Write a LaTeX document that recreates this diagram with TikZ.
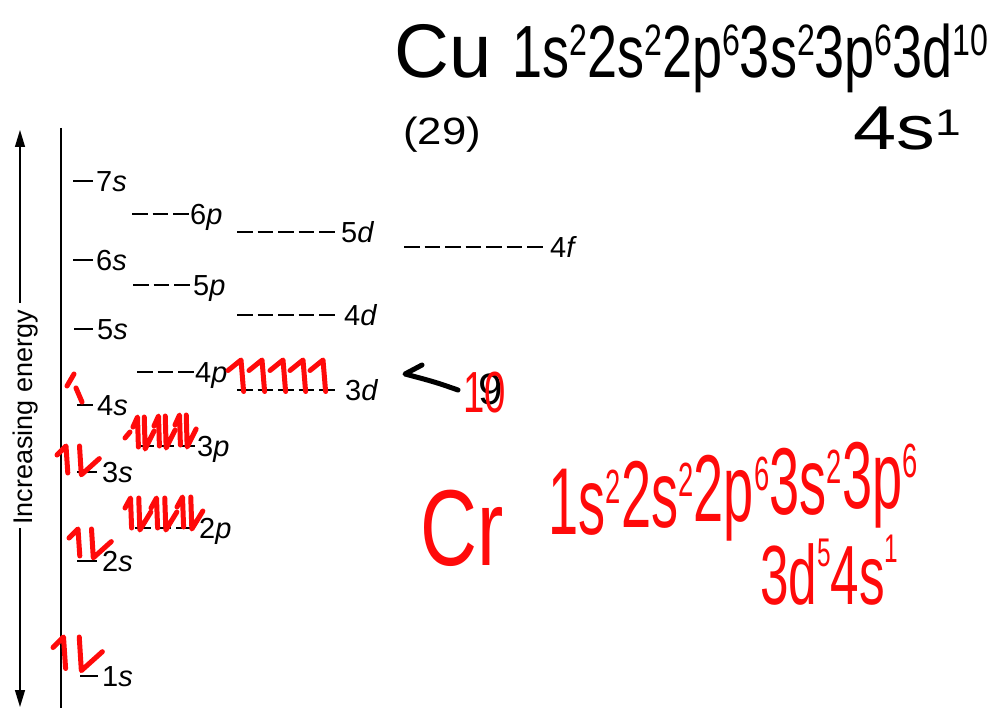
\documentclass[tikz,border=0pt]{standalone}
\usepackage{fontspec}
\setmainfont{Liberation Sans}
\usetikzlibrary{arrows.meta}
\definecolor{hred}{RGB}{255,10,10}
\newcommand\hsp[3]{\raisebox{#1}{\fontsize{#2}{#2}\selectfont #3}}
\newcommand\fs[1]{\fontsize{#1}{#1}\selectfont}
\newcommand\st[1]{\addfontfeature{FakeStretch=#1}}
\begin{document}
\begin{tikzpicture}[x=1pt,y=-1pt,
  lbl/.style={anchor=base west, inner sep=0pt, font=\fs{29}},
  slvl/.style={line width=2pt},
  lvl/.style={line width=2pt, dash pattern=on 15.5pt off 5pt},
  spin/.style={hred, line width=5pt, line cap=round, line join=round},
  hand/.style={anchor=base west, inner sep=0pt},
  redcfg/.style={hand, text=hred, font=\fs{95}\st{0.57}},
  pics/updn/.style={code={
    \draw[spin] (0,10) -- (10,0) -- (12,30);
    \draw[spin] (25,0) -- (27,32) -- (47,14);}},
  pics/upone/.style={code={
    \draw[spin] (0,10) -- (10,0) -- (12,30);}}
]
\useasboundingbox (0,0) rectangle (987,708);
\fill[white] (0,0) rectangle (987,708);

% axis
\draw[line width=1.5pt] (61,128) -- (61,708);
\node[rotate=90, anchor=base, inner sep=0pt, font=\fs{27}] (elab) at (32,417.5) {Increasing energy};
\draw[line width=1.3pt, -{Triangle[length=17pt,width=10pt]}] (20,303) -- (20,130);
\draw[line width=1.3pt, -{Triangle[length=17pt,width=10pt]}] (20,528) -- (20,707);

% s levels
\draw[slvl] (73,181) -- (93,181); \node[lbl] (l7s) at (96,191.4) {7\textit{s}};
\draw[slvl] (73,260) -- (93,260); \node[lbl] (l6s) at (96,270.4) {6\textit{s}};
\draw[slvl] (74,329) -- (93,329); \node[lbl] (l5s) at (97,339.4) {5\textit{s}};
\draw[slvl] (77,405) -- (93,405); \node[lbl] (l4s) at (97,415.4) {4\textit{s}};
\draw[slvl] (77,472) -- (97,472); \node[lbl] (l3s) at (102,482.4) {3\textit{s}};
\draw[slvl] (77,561) -- (97,561); \node[lbl] (l2s) at (102,571.4) {2\textit{s}};
\draw[slvl] (80,676) -- (98,676); \node[lbl] (l1s) at (102,686.4) {1\textit{s}};
% p levels
\draw[lvl] (132,214) -- +(56.5,0); \node[lbl] (l6p) at (190,224.4) {6\textit{p}};
\draw[lvl] (133,285) -- +(56.5,0); \node[lbl] (l5p) at (193,295.4) {5\textit{p}};
\draw[lvl] (137,372) -- +(56.5,0); \node[lbl] (l4p) at (195,382.4) {4\textit{p}};
\draw[lvl] (138,446) -- +(56.5,0); \node[lbl] (l3p) at (197,456.4) {3\textit{p}};
\draw[lvl] (135,528) -- +(56.5,0); \node[lbl] (l2p) at (199,538.4) {2\textit{p}};
% d levels
\draw[lvl] (237,232) -- +(97.5,0); \node[lbl] (l5d) at (341,242.4) {5\textit{d}};
\draw[lvl] (237,315) -- +(97.5,0); \node[lbl] (l4d) at (344,325.4) {4\textit{d}};
\draw[lvl] (237,390) -- +(97.5,0); \node[lbl] (l3d) at (345,400.4) {3\textit{d}};
% f level
\draw[lvl] (404,247) -- +(138.5,0); \node[lbl] (l4f) at (550,257.4) {4\textit{f}};

% red electron arrows
\draw[spin] (67,386) -- (74,374);
\draw[spin] (76,388) -- (82,402);
\pic[xscale=1.05,yscale=1.05] at (53,637) {updn};
\pic[xscale=0.9,yscale=0.9] at (57,446) {updn};
\pic[xscale=0.9,yscale=0.9] at (69,529) {updn};
\draw[spin] (125,438) -- (130,432);
\pic[xscale=0.45] at (133,417) {updn};
\pic[xscale=0.45] at (154,416) {updn};
\pic[xscale=0.45] at (175,415) {updn};
\pic[xscale=0.55] at (125,498) {updn};
\pic[xscale=0.55] at (151,498) {updn};
\pic[xscale=0.55] at (177,497) {updn};
\foreach \xx in {228,249,270,290,310} \pic[xscale=1.3,yscale=1.05] at (\xx,360) {upone};

% black hand arrow and 9 / red 10
\coordinate (hA) at (458,390);
\coordinate (hB) at (405,374);
\coordinate (hC) at (422,365);
\draw[line width=5pt, line cap=round, line join=round] (hA) .. controls (435,382) .. (hB) -- (hC);
\node[inner sep=0pt, font=\fs{44}] (nine) at (491,389) {9};
\node[hand, text=hred, font=\fs{58}\st{0.66}] (ten) at (463,412) {10};

% black handwriting
\node[hand, font=\fs{76}] (cu) at (394,78) {Cu};
\node[hand, font=\fs{74}\st{0.73}] (cucfg) at (512,78) {1s\hsp{0.3em}{44}{2}2s\hsp{0.3em}{44}{2}2p\hsp{0.3em}{44}{6}3s\hsp{0.3em}{44}{2}3p\hsp{0.3em}{44}{6}3d\hsp{0.3em}{44}{10}};
\node[hand, font=\fs{38}\st{1.15}] (cuz) at (403,145) {(29)};
\node[hand, font=\fs{62}\st{1.25}] (cu4s) at (853,150) {4s\hsp{0.24em}{37}{1}};

% red handwriting
\node[hand, text=hred, font=\fs{108}\st{0.73}] (cr) at (420,565) {Cr};
\node[redcfg] (r1) at (548,534) {1s\hsp{0.32em}{48}{2}};
\node[redcfg] (r2) at ([yshift=7pt]r1.base east) {2s\hsp{0.32em}{48}{2}};
\node[redcfg] (r3) at ([yshift=6pt]r2.base east) {2p\hsp{0.32em}{48}{6}};
\node[redcfg] (r4) at ([yshift=7pt]r3.base east) {3s\hsp{0.32em}{48}{2}};
\node[redcfg] (r5) at ([yshift=6pt]r4.base east) {3p\hsp{0.32em}{48}{6}};
\node[hand, text=hred, font=\fs{84}\st{0.61}] (cr2) at (760,604) {3d\hsp{0.45em}{40}{5}4s\hsp{0.5em}{40}{1}};
\end{tikzpicture}
\end{document}
